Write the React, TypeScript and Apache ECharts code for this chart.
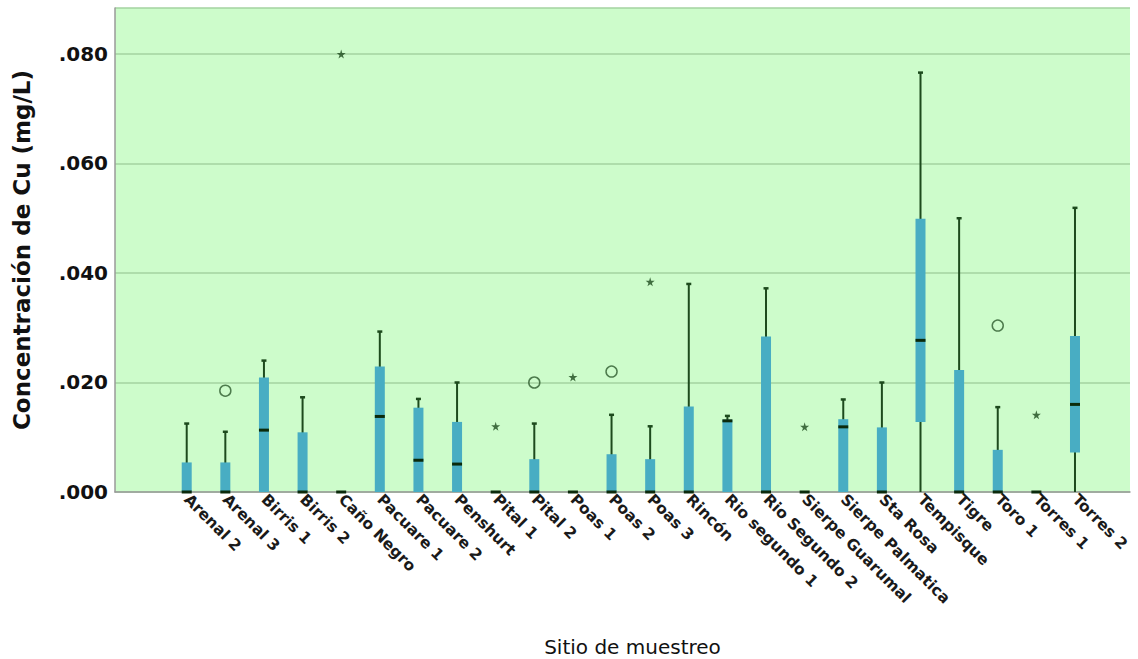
import React, { useEffect, useRef } from "react";
import * as echarts from "echarts";

const categories = [
  "Arenal 2", "Arenal 3", "Birris 1", "Birris 2", "Caño Negro", "Pacuare 1",
  "Pacuare 2", "Penshurt", "Pital 1", "Pital 2", "Poas 1", "Poas 2", "Poas 3",
  "Rincón", "Rio segundo 1", "Rio Segundo 2", "Sierpe Guarumal", "Sierpe Palmatica",
  "Sta Rosa", "Tempisque", "Tigre", "Toro 1", "Torres 1", "Torres 2",
];
const whiskerLow = [0, 0, 0, 0, 0, 0, 0, 0, 0, 0, 0, 0, 0, 0, 0, 0, 0, 0, 0, 0, 0, 0, 0, 0];
const q1 = [0, 0, 0, 0, 0, 0, 0, 0, 0, 0, 0, 0, 0, 0, 0, 0, 0, 0, 0, 0.0128, 0, 0, 0, 0.0072];
const median = [0, 0, 0.0113, 0, 0, 0.0138, 0.0058, 0.0051, 0, 0, 0, 0, 0, 0, 0.013, 0, 0, 0.0119, 0, 0.0277, 0, 0, 0, 0.016];
const q3 = [0.0054, 0.0054, 0.0209, 0.0109, 0, 0.0229, 0.0154, 0.0128, 0, 0.006, 0, 0.0069, 0.006, 0.0156, 0.0132, 0.0284, 0, 0.0133, 0.0118, 0.0499, 0.0223, 0.0077, 0, 0.0285];
const whiskerHigh = [0.0125, 0.011, 0.024, 0.0173, 0, 0.0293, 0.017, 0.02, 0, 0.0125, 0, 0.0141, 0.012, 0.038, 0.0139, 0.0372, 0, 0.0169, 0.02, 0.0766, 0.05, 0.0155, 0, 0.0519];
// outliers: [category index, value]
const circleOutliers = [[1, 0.0185], [9, 0.02], [11, 0.022], [21, 0.0304]];
const starOutliers = [[4, 0.08], [8, 0.012], [10, 0.021], [12, 0.0384], [16, 0.0119], [22, 0.0141]];
const yTicks = [0, 0.02, 0.04, 0.06, 0.08];

const Y_MAX = 0.0884;
const BOX = "#48adc3";
const DARK = "#1d4a1d";
const STAR = "path://M50,0 L61,35 L98,35 L68,57 L79,91 L50,70 L21,91 L32,57 L2,35 L39,35 Z";

export default function App() {
  const ref = useRef<HTMLDivElement>(null);
  useEffect(() => {
    if (!ref.current) return;
    const chart = echarts.init(ref.current, null, { renderer: "svg" });
    const boxData = categories.map((_, i) => [i, whiskerLow[i], q1[i], median[i], q3[i], whiskerHigh[i]]);
    chart.setOption({
      animation: false,
      backgroundColor: "#ffffff",
      textStyle: { fontFamily: "DejaVu Sans" },
      grid: [
        { left: 115, top: 8, width: 1015, height: 484, show: true, backgroundColor: "#cdfccb", borderWidth: 0, outerBoundsMode: "none", containLabel: false },
        { left: 167.4, top: 8, width: 926.9, height: 484, outerBoundsMode: "none", containLabel: false },
      ],
      xAxis: [
        {
          gridIndex: 0, type: "value", min: 0, max: 1,
          axisLine: { show: true, lineStyle: { color: "#9a9a9a", width: 1.5 } },
          axisTick: { show: false }, axisLabel: { show: false }, splitLine: { show: false },
          name: "Sitio de muestreo", nameLocation: "middle", nameGap: 145,
          nameTextStyle: { fontSize: 20, color: "#111", fontFamily: "DejaVu Sans", padding: [0, 0, 0, 20] },
        },
        {
          gridIndex: 1, type: "category", data: categories, boundaryGap: true,
          axisLine: { show: false }, axisTick: { show: false }, splitLine: { show: false },
          axisLabel: { rotate: -45, fontSize: 15.5, fontWeight: "bold", color: "#1a1a1a", margin: 5, interval: 0, fontFamily: "DejaVu Sans" },
        },
      ],
      yAxis: [
        {
          gridIndex: 0, type: "value", min: 0, max: Y_MAX, interval: 0.02,
          axisLine: { show: true, lineStyle: { color: "#9a9a9a", width: 1.5 } },
          axisTick: { show: false },
          axisLabel: {
            margin: 7, fontSize: 20, fontWeight: "bold", color: "#111", showMaxLabel: false,
            fontFamily: "DejaVu Sans",
            formatter: (v: number) => (yTicks.some((t) => Math.abs(t - v) < 1e-9) ? v.toFixed(3).replace(/^0/, "") : ""),
          },
          splitLine: { show: true, lineStyle: { color: "#a3d3a0", width: 1.5 } },
          name: "Concentración de Cu (mg/L)", nameLocation: "middle", nameGap: 82,
          nameTextStyle: { fontSize: 23, fontWeight: "bold", color: "#111", fontFamily: "DejaVu Sans" },
        },
        { gridIndex: 1, type: "value", min: 0, max: Y_MAX, show: false, splitLine: { show: false } },
      ],
      series: [
        {
          type: "custom", xAxisIndex: 1, yAxisIndex: 1, data: boxData,
          renderItem: (params: any, api: any) => {
            const idx = api.value(0);
            const pLo = api.coord([idx, api.value(1)]);
            const pQ1 = api.coord([idx, api.value(2)]);
            const pMed = api.coord([idx, api.value(3)]);
            const pQ3 = api.coord([idx, api.value(4)]);
            const pHi = api.coord([idx, api.value(5)]);
            const cx = pMed[0];
            const bw = 10;
            const cw = 5;
            const children: any[] = [];
            if (pHi[1] < pLo[1] - 0.5) {
              children.push({ type: "line", shape: { x1: cx, y1: pLo[1], x2: cx, y2: pHi[1] }, style: { stroke: DARK, lineWidth: 2 } });
              children.push({ type: "line", shape: { x1: cx - cw / 2, y1: pHi[1], x2: cx + cw / 2, y2: pHi[1] }, style: { stroke: DARK, lineWidth: 2.5 } });
            }
            if (pQ1[1] - pQ3[1] > 0.5) {
              children.push({ type: "rect", shape: { x: cx - bw / 2, y: pQ3[1], width: bw, height: pQ1[1] - pQ3[1] }, style: { fill: BOX } });
            }
            children.push({ type: "rect", shape: { x: cx - bw / 2, y: pMed[1] - 1.5, width: bw, height: 3 }, style: { fill: "#0b2a0b" } });
            return { type: "group", children };
          },
          z: 5,
        },
        {
          type: "scatter", xAxisIndex: 1, yAxisIndex: 1, data: circleOutliers,
          symbol: "circle", symbolSize: 11,
          itemStyle: { color: "rgba(0,0,0,0)", borderColor: "#2d5a2d", borderWidth: 1.5 },
          z: 6,
        },
        {
          type: "scatter", xAxisIndex: 1, yAxisIndex: 1, data: starOutliers,
          symbol: STAR, symbolSize: 9,
          itemStyle: { color: DARK },
          z: 6,
        },
      ],
    });
    return () => chart.dispose();
  }, []);
  return <div ref={ref} style={{ width: 1138, height: 659, position: "absolute", left: 0, top: 0 }} />;
}
